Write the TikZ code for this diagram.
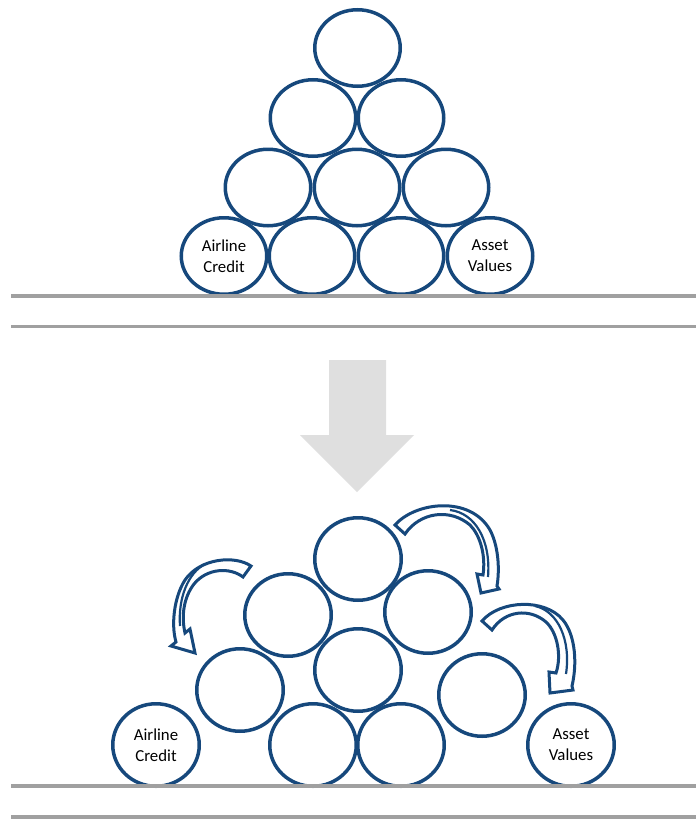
\documentclass[tikz,border=0pt]{standalone}
\usepackage{fontspec}
\setmainfont{Carlito}
\usetikzlibrary{shapes.geometric}
\definecolor{cblue}{RGB}{22,72,124}
\definecolor{lgray}{RGB}{160,160,160}
\definecolor{agray}{RGB}{223,223,223}
\begin{document}
\begin{tikzpicture}[x=1pt,y=-1pt,
  ball/.style={ellipse, draw=cblue, line width=3.5pt, fill=white,
    minimum width=85.5pt, minimum height=76.5pt, inner sep=0pt,
    align=center, font=\fontsize{16.8}{20.8}\selectfont},
  ballb/.style={ball, minimum width=86.5pt, minimum height=82.5pt},
  floor/.style={draw=lgray, line width=3.8pt},
  bigarrow/.style={fill=agray, draw=none},
  curarrow/.style={draw=cblue, line width=3pt, fill=white, line join=miter},
  twist/.style={draw=cblue, line width=2.2pt},
]
\useasboundingbox (0,0) rectangle (696,819);

% ---------- top pyramid ----------
\node[ball] (t1)  at (357.5,48) {};
\node[ball] (t2a) at (313,118) {};
\node[ball] (t2b) at (401,118) {};
\node[ball] (t3a) at (268,187.5) {};
\node[ball] (t3b) at (357,187.5) {};
\node[ball] (t3c) at (446,187.5) {};
\node[ball] (t4a) at (224,256) {Airline\\Credit};
\node[ball] (t4b) at (312,256) {};
\node[ball] (t4c) at (401,256) {};
\node[ball] (t4d) at (490,256) {Asset\\Values};

\coordinate (f1a) at (11,296);  \coordinate (f1b) at (696,296);
\coordinate (f2a) at (11,326.5);\coordinate (f2b) at (696,326.5);
\draw[floor] (f1a) -- (f1b);
\draw[floor] (f2a) -- (f2b);

% ---------- big down arrow ----------
\path[bigarrow] (329,360) -- (386,360) -- (386,435) -- (414,435) -- (357,492)
  -- (300,435) -- (329,435) -- cycle;

% ---------- bottom heap ----------
\node[ballb] (b1)  at (358,559) {};
\node[ballb] (b2a) at (288,615) {};
\node[ballb] (b2b) at (428,612) {};
\node[ballb] (b3a) at (240,690) {};
\node[ballb] (b3b) at (358,670) {};
\node[ballb] (b3c) at (482,695) {};
\node[ballb] (b4a) at (156,745) {Airline\\Credit};
\node[ballb] (b4b) at (313,745) {};
\node[ballb] (b4c) at (401,745) {};
\node[ballb] (b4d) at (571,745) {Asset\\Values};

\coordinate (f3a) at (11,786);  \coordinate (f3b) at (696,786);
\coordinate (f4a) at (11,817);  \coordinate (f4b) at (696,817);
\draw[floor] (f3a) -- (f3b);
\draw[floor] (f4a) -- (f4b);

% ---------- curved arrows ----------
% left arrow
\path[curarrow] (251,566) .. controls (235,555) and (200,558) .. (185,580)
  .. controls (174,597) and (171,625) .. (176,642) -- (171,646) -- (195,653)
  -- (190,629) -- (185,633) .. controls (181,615) and (184,597) .. (194,584)
  .. controls (207,568) and (230,567) .. (243,577) -- cycle;
\draw[twist] (205,564) .. controls (188,573) and (178,598) .. (180,626);
% top right arrow
\path[curarrow] (395,525) .. controls (415,502) and (470,495) .. (490,530)
  .. controls (498,545) and (500,568) .. (497,586) -- (499,589) -- (481,593)
  -- (477,574) -- (483,575) .. controls (486,555) and (480,535) .. (470,525)
  .. controls (450,508) and (420,512) .. (405,534) -- cycle;
\draw[twist] (450,510) .. controls (475,513) and (491,540) .. (488,577);
% lower right arrow
\path[curarrow] (482,621) .. controls (500,600) and (545,598) .. (563,620)
  .. controls (576,636) and (577,665) .. (572,686) -- (573,690) -- (550,693)
  -- (549,672) -- (556,673) .. controls (562,655) and (557,632) .. (546,622)
  .. controls (530,608) and (505,610) .. (492,630) -- cycle;
\draw[twist] (535,606) .. controls (558,611) and (571,640) .. (566,674);
\end{tikzpicture}
\end{document}
